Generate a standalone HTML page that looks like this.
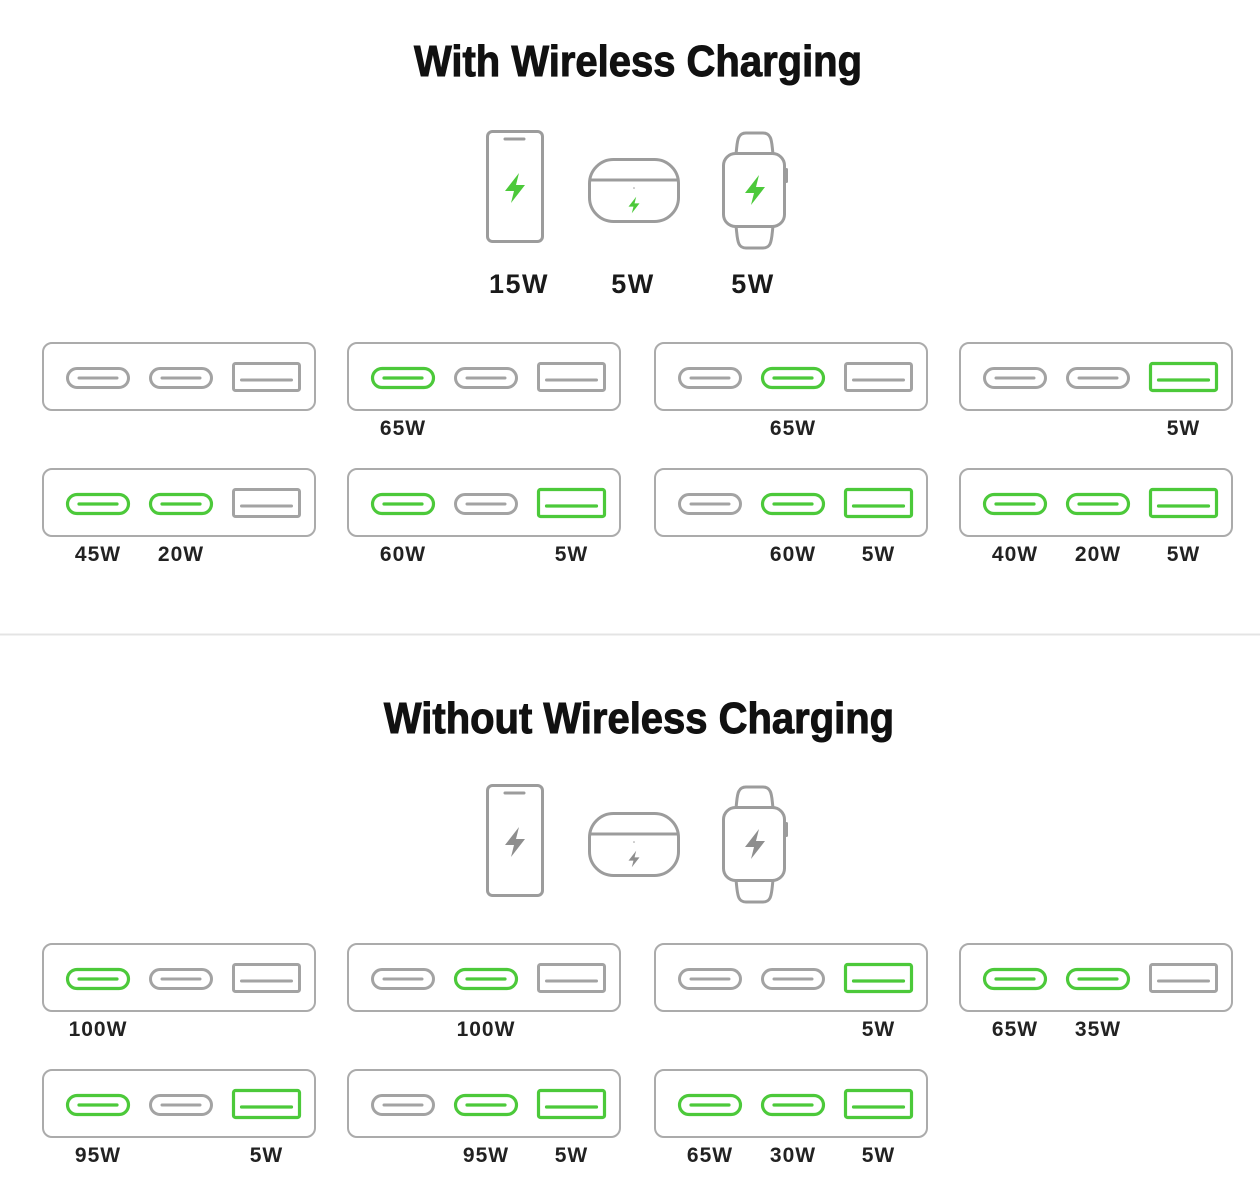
<!DOCTYPE html>
<html><head><meta charset="utf-8"><style>
html,body{margin:0;padding:0;background:#fff;}
svg{display:block;}
.t{font-family:"Liberation Sans",sans-serif;font-weight:bold;fill:#111;stroke:#111;stroke-width:0.9px;}
.l{font-family:"Liberation Sans",sans-serif;font-weight:bold;fill:#222;font-size:21px;letter-spacing:1px;text-anchor:middle;}
.d{font-family:"Liberation Sans",sans-serif;font-weight:bold;fill:#1a1a1a;font-size:27px;letter-spacing:1.5px;text-anchor:middle;}
</style></head><body>
<svg width="1260" height="1184" viewBox="0 0 1260 1184" xmlns="http://www.w3.org/2000/svg">
<defs>
  <g id="frame"><rect x="1" y="1" width="272" height="67" rx="9" fill="#fff" stroke="#ababab" stroke-width="2"/></g>
  <g id="cg"><rect x="-30.5" y="-9.5" width="61" height="19" rx="9.5" fill="none" stroke="#a3a3a3" stroke-width="3"/><line x1="-19" y1="0" x2="19" y2="0" stroke="#a3a3a3" stroke-width="3" stroke-linecap="round"/></g>
  <g id="cG"><rect x="-30.5" y="-9.5" width="61" height="19" rx="9.5" fill="none" stroke="#4cc93a" stroke-width="3.2"/><line x1="-19" y1="0" x2="19" y2="0" stroke="#4cc93a" stroke-width="3.2" stroke-linecap="round"/></g>
  <g id="ag"><rect x="-33" y="-13.5" width="66" height="27" rx="2" fill="none" stroke="#a3a3a3" stroke-width="3"/><line x1="-25" y1="3" x2="25" y2="3" stroke="#a3a3a3" stroke-width="3" stroke-linecap="round"/></g>
  <g id="aG"><rect x="-33" y="-13.5" width="66" height="27" rx="2" fill="none" stroke="#4cc93a" stroke-width="3.2"/><line x1="-25" y1="3" x2="25" y2="3" stroke="#4cc93a" stroke-width="3.2" stroke-linecap="round"/></g>
  <path id="bolt" d="M4,-15 L-10,3 L-1,3 L-4,15 L10,-3 L1,-3 Z"/>
  <g id="devs" fill="none" stroke="#9c9c9c" stroke-width="3">
    <rect x="487.5" y="131.5" width="55" height="110" rx="5"/>
    <line x1="505" y1="139" x2="524" y2="139" stroke-linecap="round"/>
    <rect x="589.5" y="159.5" width="89" height="62" rx="24"/>
    <line x1="590" y1="180" x2="678" y2="180"/>
    <path d="M736,154 C737,146 737,140 739,137 Q741,133 746,133 L763,133 Q768,133 770,137 C772,140 772,146 773,154"/>
    <rect x="723.5" y="153.5" width="61" height="73" rx="12"/>
    <path d="M736,226 C737,234 737,240 739,244 Q741,248 746,248 L763,248 Q768,248 770,244 C772,240 772,234 773,226"/>
    <rect x="785" y="168" width="3" height="15" rx="1.5" fill="#9c9c9c" stroke="none"/>
    <circle cx="634" cy="188" r="0.8" fill="#9c9c9c" stroke="none"/>
  </g>
</defs>

<!-- Titles -->
<text class="t" font-size="40" text-anchor="middle" transform="translate(638,76) scale(1,1.1)">With Wireless Charging</text>
<text class="t" font-size="40" text-anchor="middle" transform="translate(639,733) scale(1,1.1)">Without Wireless Charging</text>

<!-- Devices top -->
<use href="#devs"/>
<use href="#bolt" transform="translate(515,188)" fill="#4cc93a"/>
<use href="#bolt" transform="translate(634,205) scale(0.55)" fill="#4cc93a"/>
<use href="#bolt" transform="translate(755,190)" fill="#4cc93a"/>
<text class="d" x="519" y="293">15W</text>
<text class="d" x="633" y="293">5W</text>
<text class="d" x="753" y="293">5W</text>

<!-- Devices bottom -->
<g transform="translate(0,654)">
<use href="#devs"/>
<use href="#bolt" transform="translate(515,188)" fill="#8e8e8e"/>
<use href="#bolt" transform="translate(634,205) scale(0.55)" fill="#8e8e8e"/>
<use href="#bolt" transform="translate(755,190)" fill="#8e8e8e"/>
</g>

<!-- Divider -->
<rect x="0" y="633.5" width="1260" height="2" fill="#e4e4e4"/>

<!-- TOP ROW 1 -->
<g transform="translate(42,342)"><use href="#frame"/><use href="#cg" x="56" y="36"/><use href="#cg" x="139" y="36"/><use href="#ag" x="224.5" y="35"/></g>
<g transform="translate(347,342)"><use href="#frame"/><use href="#cG" x="56" y="36"/><use href="#cg" x="139" y="36"/><use href="#ag" x="224.5" y="35"/></g>
<g transform="translate(654,342)"><use href="#frame"/><use href="#cg" x="56" y="36"/><use href="#cG" x="139" y="36"/><use href="#ag" x="224.5" y="35"/></g>
<g transform="translate(959,342)"><use href="#frame"/><use href="#cg" x="56" y="36"/><use href="#cg" x="139" y="36"/><use href="#aG" x="224.5" y="35"/></g>
<text class="l" x="403" y="435">65W</text>
<text class="l" x="793" y="435">65W</text>
<text class="l" x="1183.5" y="435">5W</text>

<!-- TOP ROW 2 -->
<g transform="translate(42,468)"><use href="#frame"/><use href="#cG" x="56" y="36"/><use href="#cG" x="139" y="36"/><use href="#ag" x="224.5" y="35"/></g>
<g transform="translate(347,468)"><use href="#frame"/><use href="#cG" x="56" y="36"/><use href="#cg" x="139" y="36"/><use href="#aG" x="224.5" y="35"/></g>
<g transform="translate(654,468)"><use href="#frame"/><use href="#cg" x="56" y="36"/><use href="#cG" x="139" y="36"/><use href="#aG" x="224.5" y="35"/></g>
<g transform="translate(959,468)"><use href="#frame"/><use href="#cG" x="56" y="36"/><use href="#cG" x="139" y="36"/><use href="#aG" x="224.5" y="35"/></g>
<text class="l" x="98" y="561">45W</text>
<text class="l" x="181" y="561">20W</text>
<text class="l" x="403" y="561">60W</text>
<text class="l" x="571.5" y="561">5W</text>
<text class="l" x="793" y="561">60W</text>
<text class="l" x="878.5" y="561">5W</text>
<text class="l" x="1015" y="561">40W</text>
<text class="l" x="1098" y="561">20W</text>
<text class="l" x="1183.5" y="561">5W</text>

<!-- BOTTOM ROW 1 -->
<g transform="translate(42,943)"><use href="#frame"/><use href="#cG" x="56" y="36"/><use href="#cg" x="139" y="36"/><use href="#ag" x="224.5" y="35"/></g>
<g transform="translate(347,943)"><use href="#frame"/><use href="#cg" x="56" y="36"/><use href="#cG" x="139" y="36"/><use href="#ag" x="224.5" y="35"/></g>
<g transform="translate(654,943)"><use href="#frame"/><use href="#cg" x="56" y="36"/><use href="#cg" x="139" y="36"/><use href="#aG" x="224.5" y="35"/></g>
<g transform="translate(959,943)"><use href="#frame"/><use href="#cG" x="56" y="36"/><use href="#cG" x="139" y="36"/><use href="#ag" x="224.5" y="35"/></g>
<text class="l" x="98" y="1036">100W</text>
<text class="l" x="486" y="1036">100W</text>
<text class="l" x="878.5" y="1036">5W</text>
<text class="l" x="1015" y="1036">65W</text>
<text class="l" x="1098" y="1036">35W</text>

<!-- BOTTOM ROW 2 -->
<g transform="translate(42,1069)"><use href="#frame"/><use href="#cG" x="56" y="36"/><use href="#cg" x="139" y="36"/><use href="#aG" x="224.5" y="35"/></g>
<g transform="translate(347,1069)"><use href="#frame"/><use href="#cg" x="56" y="36"/><use href="#cG" x="139" y="36"/><use href="#aG" x="224.5" y="35"/></g>
<g transform="translate(654,1069)"><use href="#frame"/><use href="#cG" x="56" y="36"/><use href="#cG" x="139" y="36"/><use href="#aG" x="224.5" y="35"/></g>
<text class="l" x="98" y="1162">95W</text>
<text class="l" x="266.5" y="1162">5W</text>
<text class="l" x="486" y="1162">95W</text>
<text class="l" x="571.5" y="1162">5W</text>
<text class="l" x="710" y="1162">65W</text>
<text class="l" x="793" y="1162">30W</text>
<text class="l" x="878.5" y="1162">5W</text>
</svg>
</body></html>
